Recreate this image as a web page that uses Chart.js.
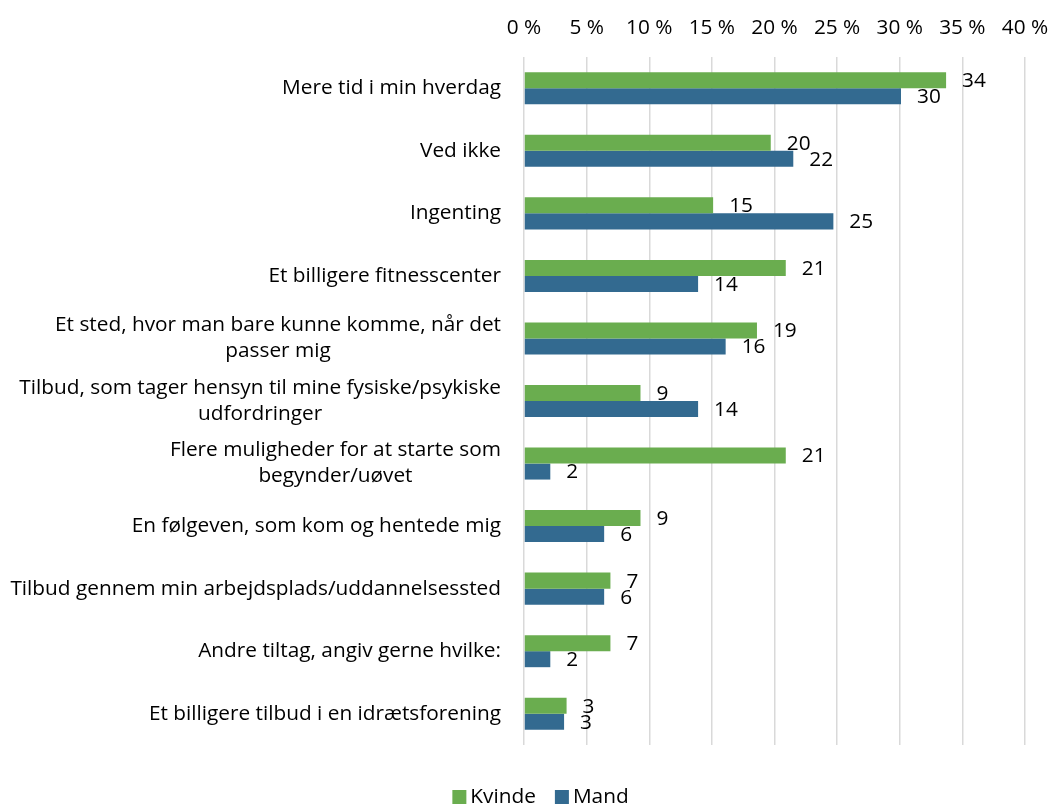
<!DOCTYPE html>
<html>
<head>
<meta charset="utf-8">
<script src="https://cdn.jsdelivr.net/npm/chart.js@4/dist/chart.umd.min.js"></script>
<style>
  html, body { margin: 0; padding: 0; background: #fff; }
  canvas { display: block; }
</style>
</head>
<body>
<canvas id="c" width="1051" height="805"></canvas>
<script>
const categories = [
  'Mere tid i min hverdag',
  'Ved ikke',
  'Ingenting',
  'Et billigere fitnesscenter',
  ['Et sted, hvor man bare kunne komme, når det', 'passer mig'],
  ['Tilbud, som tager hensyn til mine fysiske/psykiske', 'udfordringer'],
  ['Flere muligheder for at starte som', 'begynder/uøvet'],
  'En følgeven, som kom og hentede mig',
  'Tilbud gennem min arbejdsplads/uddannelsessted',
  'Andre tiltag, angiv gerne hvilke:',
  'Et billigere tilbud i en idrætsforening'
];
const seriesNames = ['Kvinde', 'Mand'];
const kvinde = [33.7, 19.7, 15.1, 20.9, 18.6, 9.3, 20.9, 9.3, 6.9, 6.9, 3.4];
const mand   = [30.1, 21.5, 24.7, 13.9, 16.1, 13.9, 2.1, 6.4, 6.4, 2.1, 3.2];
const xTicks = [0, 5, 10, 15, 20, 25, 30, 35, 40];

const FONT = "'Open Sans', sans-serif";
const FSIZE = 20.8;
const colors = ['#6AAD4F', '#336A90'];

const yLabelPlugin = {
  id: 'yLabels',
  afterDraw(chart) {
    const ctx = chart.ctx;
    const ys = chart.scales.y;
    const right = chart.chartArea.left - 23;
    const lineH = 26;
    ctx.save();
    ctx.font = FSIZE + 'px ' + FONT;
    ctx.fillStyle = '#000';
    ctx.textBaseline = 'middle';
    ctx.textAlign = 'center';
    categories.forEach((lab, i) => {
      const lines = Array.isArray(lab) ? lab : [lab];
      const py = ys.getPixelForValue(i);
      const maxW = Math.max(...lines.map(l => ctx.measureText(l).width));
      const cx = right - maxW / 2;
      const y0 = py - (lines.length - 1) * lineH / 2;
      lines.forEach((l, k) => ctx.fillText(l, cx, y0 + k * lineH));
    });
    ctx.restore();
  }
};

const valueLabelPlugin = {
  id: 'valueLabels',
  afterDatasetsDraw(chart) {
    const ctx = chart.ctx;
    ctx.save();
    ctx.font = FSIZE + 'px ' + FONT;
    ctx.fillStyle = '#000';
    ctx.textBaseline = 'middle';
    ctx.textAlign = 'left';
    chart.data.datasets.forEach((ds, di) => {
      const meta = chart.getDatasetMeta(di);
      meta.data.forEach((bar, i) => {
        ctx.fillText(String(Math.round(ds.data[i])), bar.x + 16, bar.y + 1);
      });
    });
    ctx.restore();
  }
};

const legendPlugin = {
  id: 'customLegend',
  afterDraw(chart) {
    const ctx = chart.ctx;
    ctx.save();
    ctx.font = FSIZE + 'px ' + FONT;
    ctx.textBaseline = 'middle';
    ctx.textAlign = 'left';
    const box = 14, gapText = 4, gapItem = 19;
    const widths = seriesNames.map(n => box + gapText + ctx.measureText(n).width);
    const total = widths.reduce((a, b) => a + b, 0) + gapItem * (seriesNames.length - 1);
    let x = chart.width / 2 + 15 - total / 2;
    const cy = 797;
    seriesNames.forEach((n, i) => {
      ctx.fillStyle = colors[i];
      ctx.fillRect(x, cy - box / 2, box, box);
      ctx.fillStyle = '#000';
      ctx.fillText(n, x + box + gapText, cy);
      x += widths[i] + gapItem;
    });
    ctx.restore();
  }
};

new Chart(document.getElementById('c'), {
  type: 'bar',
  data: {
    labels: categories,
    datasets: [
      { label: seriesNames[0], data: kvinde, backgroundColor: colors[0] },
      { label: seriesNames[1], data: mand, backgroundColor: colors[1] }
    ]
  },
  options: {
    indexAxis: 'y',
    responsive: false,
    animation: false,
    devicePixelRatio: 1,
    layout: { padding: { top: 0, right: 26, bottom: 60, left: 0 } },
    datasets: { bar: { categoryPercentage: 0.512, barPercentage: 1.0 } },
    plugins: {
      legend: { display: false },
      tooltip: { enabled: false }
    },
    scales: {
      x: {
        position: 'top',
        min: 0, max: 40,
        afterBuildTicks(scale) { scale.ticks = xTicks.map(v => ({ value: v })); },
        afterFit(scale) { scale.height = 57; scale.paddingLeft = 0; scale.paddingRight = 0; },
        ticks: {
          padding: 16,
          color: '#000',
          font: { family: FONT, size: FSIZE },
          callback: v => v + ' %',
          maxRotation: 0
        },
        grid: { color: '#d9d9d9', lineWidth: 1.5, drawTicks: false },
        border: { display: false }
      },
      y: {
        afterFit(scale) { scale.width = 524; },
        ticks: { display: false },
        grid: { display: false, drawTicks: false },
        border: { display: false }
      }
    }
  },
  plugins: [yLabelPlugin, valueLabelPlugin, legendPlugin]
});
</script>
</body>
</html>
